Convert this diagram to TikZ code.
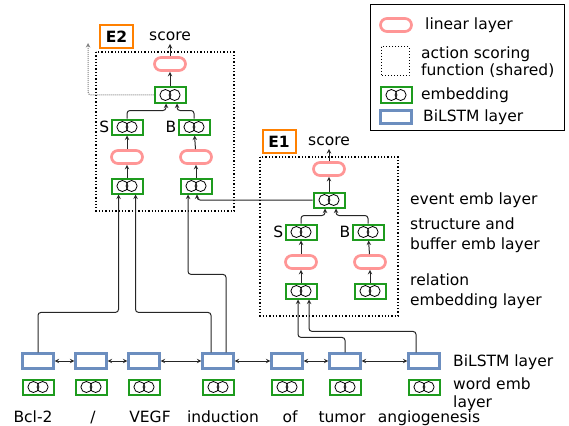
\documentclass[tikz,border=0pt]{standalone}
\usepackage{fontspec}
\setmainfont{DejaVu Sans}
\usetikzlibrary{positioning}
\definecolor{embgreen}{RGB}{30,155,30}
\definecolor{linpink}{RGB}{255,150,150}
\definecolor{lstmblue}{RGB}{108,142,191}
\definecolor{tagorange}{RGB}{255,128,0}
\begin{document}
\begin{tikzpicture}[x=1pt,y=-1pt,font=\fontsize{15.5}{20}\selectfont,
	emb/.style={draw=embgreen,line width=2pt,minimum width=31pt,minimum height=15pt,inner sep=0pt,
		path picture={\draw[line width=0.8pt,black]
			([xshift=-4.6pt]path picture bounding box.center) circle (5.5pt)
			([xshift=4.6pt]path picture bounding box.center) circle (5.5pt);}},
	lin/.style={draw=linpink,line width=2.7pt,rounded corners=6.5pt,minimum width=31pt,minimum height=13pt,inner sep=0pt},
	lstm/.style={draw=lstmblue,line width=2.2pt,minimum width=31pt,minimum height=15pt,inner sep=0pt},
	tag/.style={draw=tagorange,line width=2pt,minimum width=33pt,minimum height=23pt,inner sep=0pt,font=\fontsize{15.5}{20}\selectfont\bfseries},
	scoring/.style={draw,dotted,line width=1.3pt},
	arr/.style={-stealth,line width=1pt,black!85,rounded corners=3pt},
	txt/.style={anchor=west,inner sep=0pt,align=left}]
	\useasboundingbox (0,0) rectangle (569,425);
	% words, word embeddings and BiLSTM
	\foreach \x/\tx/\word [count=\i] in {38/33/Bcl-2,91/93/{/},144/150/VEGF,
		218/223/induction,287/290/of,345/342/tumor,424/429/angiogenesis}{
		\node[lstm] (w\i) at (\x,361) {};
		\node[emb] (we\i) at (\x,387) {};
		\node[anchor=base,inner sep=0pt] (t\i) at (\tx,422) {\word};
	}
	\foreach \i/\j in {1/2,2/3,3/4,4/5,5/6,6/7}
	\draw[stealth-stealth,line width=1pt,black!85] (w\i) -- (w\j);
	% action scoring function, E2 and E1
	\foreach \e/\dy/\bl/\tg/\tp/\sx/\bx in {2/0/96/116.5/170/127/194,
		1/105/260/279/329/301/368}{
		\draw[scoring] (\bl,52+\dy) rectangle ++(138,159);
		\node[tag] (tag\e) at (\tg,36.5+\dy) {E\e};
		\node (score\e) at (\tp,36+\dy) {score};
		\node[lin] (top\e) at (\tp,64+\dy) {};
		\node[emb] (ev\e) at (\tp,95+\dy) {};
		\node[emb] (s\e) at (\sx,127+\dy) {};
		\node[emb] (b\e) at (\bx,127+\dy) {};
		\node[lin] (slin\e) at (\sx,157+\dy) {};
		\node[lin] (blin\e) at (\bx+2,157+\dy) {};
		\node[emb] (sin\e) at (\sx,186+\dy) {};
		\node[emb] (bin\e) at (\bx+2,186+\dy) {};
		\node[left=0pt of s\e,inner sep=1pt] (slab\e) {S};
		\node[left=0pt of b\e,inner sep=1pt] (blab\e) {B};
		\draw[arr] (sin\e) -- (slin\e);
		\draw[arr] (slin\e) -- (s\e);
		\draw[arr] (bin\e) -- (blin\e);
		\draw[arr] (blin\e) -- (b\e);
		\draw[arr] (s\e.north) -- ++(0,-8) -| ([xshift=-4pt]ev\e.south);
		\draw[arr] (b\e.north) -- ++(0,-8) -| ([xshift=7pt]ev\e.south);
		\draw[arr] (ev\e) -- (top\e);
		\draw[arr] (top\e) -- (score\e);
	}
	\coordinate (back) at (88,43);
	\draw[densely dotted,gray,line width=1pt,-stealth,rounded corners=3pt] (ev2.west) -| (back);
	% BiLSTM to relation embeddings
	\draw[arr] (w1.north) -- ++(0,-40) -| ([xshift=-8.5pt]sin2.south);
	\draw[arr] ([xshift=-7pt]w4.north) -- ++(0,-40) -| ([xshift=8.5pt]sin2.south);
	\draw[arr] ([xshift=8pt]w4.north) -- ++(0,-78) -| ([xshift=-8pt]bin2.south);
	\draw[arr] (ev1.west) -| ([xshift=1pt]bin2.south);
	\draw[arr] (w6.north) -- ++(0,-15) -| ([xshift=-3pt]sin1.south);
	\draw[arr] ([xshift=-8pt]w7.north) -- ++(0,-21) -| ([xshift=8pt]sin1.south);
	% layer names
	\node[txt] (evlab) at (410,200) {event emb layer};
	\node[txt] (sblab) at (410,235) {structure and\\buffer emb layer};
	\node[txt] (rellab) at (410,291) {relation\\embedding layer};
	\node[txt] (lstmlab) at (453,362) {BiLSTM layer};
	\node[txt,font=\fontsize{15.5}{18}\selectfont] (wordlab) at (453,394) {word emb\\layer};
	% legend
	\draw[line width=0.8pt] (370,4) rectangle (564,130);
	\node[lin] (leglin) at (396,25) {};
	\node[txt] (leglintx) at (425,25) {linear layer};
	\draw[scoring,line width=1pt] (381,47) rectangle (409,76);
	\node[txt,font=\fontsize{15.5}{17}\selectfont] (legsctx) at (421,62) {action scoring\\function (shared)};
	\node[emb] (legemb) at (396,95) {};
	\node[txt] (legembtx) at (421,95) {embedding};
	\node[lstm,minimum height=13pt] (leglstm) at (396,117) {};
	\node[txt] (leglstmtx) at (423,117) {BiLSTM layer};
\end{tikzpicture}
\end{document}
